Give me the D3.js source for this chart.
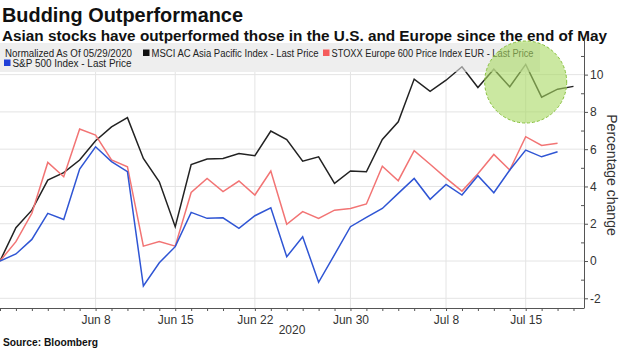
<!DOCTYPE html>
<html>
  <head>
    <meta charset="utf-8">
    <title>Budding Outperformance</title>
    <script src="https://cdnjs.cloudflare.com/ajax/libs/d3/7.8.5/d3.min.js"></script>
    <style>
      body { margin: 0; background: #fff; }
      text { font-family: "Liberation Sans", Arial, sans-serif; }
    </style>
  </head>
  <body>

    <script>
      // trading days since 05/29/2020
      var days = ["May 29","Jun 1","Jun 2","Jun 3","Jun 4","Jun 5","Jun 8","Jun 9","Jun 10","Jun 11","Jun 12",
                  "Jun 15","Jun 16","Jun 17","Jun 18","Jun 19","Jun 22","Jun 23","Jun 24","Jun 25","Jun 26",
                  "Jun 29","Jun 30","Jul 1","Jul 2","Jul 3","Jul 6","Jul 7","Jul 8","Jul 9","Jul 10",
                  "Jul 13","Jul 14","Jul 15","Jul 16","Jul 17","Jul 20"];
      var tickLabels = ["Jun 8","Jun 15","Jun 22","Jun 30","Jul 8","Jul 15"];
      var yTicks = [-2, 0, 2, 4, 6, 8, 10];

      var msci  = [0, 1.79, 2.73, 4.34, 4.74, 5.42, 6.45, 7.2, 7.69, 5.5, 4.25,
                   1.84, 5.18, 5.47, 5.5, 5.77, 5.65, 6.97, 6.52, 5.36, 5.59,
                   4.17, 4.83, 4.79, 6.52, 7.47, 9.76, 9.1, 9.7, 10.42, 9.31,
                   10.29, 9.35, 10.55, 8.79, 9.22, 9.37];
      var stoxx = [0, 1.04, 2.56, 5.29, 4.52, 7.08, 6.76, 5.42, 5.06, 0.8, 1.04,
                   0.8, 3.68, 4.43, 3.72, 4.29, 3.54, 4.83, 1.97, 2.65, 2.29,
                   2.73, 2.82, 3.06, 5.09, 4.31, 5.92, 5.19, 4.45, 3.75, 4.68,
                   5.72, 4.88, 6.67, 6.2, 6.32];
      var spx   = [0, 0.38, 1.16, 2.56, 2.23, 4.93, 6.13, 5.33, 4.79, -1.34, -0.09,
                   0.77, 2.61, 2.29, 2.32, 1.75, 2.43, 2.86, 0.23, 1.3, -1.14,
                   0.35, 1.84, 2.34, 2.82, 3.63, 4.43, 3.31, 4.11, 3.54, 4.58,
                   3.66, 4.88, 5.95, 5.59, 5.86];

      var series = [
        {name: "MSCI AC Asia Pacific Index - Last Price", values: msci, color: "#222222", key: "#111111"},
        {name: "STOXX Europe 600 Price Index EUR - Last Price", values: stoxx, color: "#f27474", key: "#f55b5b"},
        {name: "S&P 500 Index - Last Price", values: spx, color: "#2f55d4", key: "#1f3fd8"}
      ];

      var W = 620, H = 348;
      var svg = d3.select("body").append("svg")
        .attr("width", W)
        .attr("height", H);

      var x = d3.scaleLinear().domain([0, 36.66]).range([0, 584]);
      var y = d3.scaleLinear().domain([-2.52, 11.75]).range([308, 42]);

      // titles
      svg.append("text").attr("x", 2).attr("y", 22)
        .attr("font-size", 21).attr("font-weight", "bold").attr("fill", "#111")
        .attr("textLength", 241).attr("lengthAdjust", "spacingAndGlyphs")
        .text("Budding Outperformance");
      svg.append("text").attr("x", 2).attr("y", 41)
        .attr("font-size", 14.5).attr("font-weight", "bold").attr("fill", "#111")
        .attr("textLength", 605).attr("lengthAdjust", "spacingAndGlyphs")
        .text("Asian stocks have outperformed those in the U.S. and Europe since the end of May");

      // grid
      var majorIdx = tickLabels.map(function (l){ return days.indexOf(l); });
      svg.append("g").selectAll("line").data(yTicks).enter().append("line")
        .attr("x1", 0).attr("x2", 584)
        .attr("y1", function (d){ return y(d); }).attr("y2", function (d){ return y(d); })
        .attr("stroke", "#e4e4e4");
      svg.append("g").selectAll("line").data(majorIdx).enter().append("line")
        .attr("x1", function (d){ return x(d); }).attr("x2", function (d){ return x(d); })
        .attr("y1", 72).attr("y2", 308)
        .attr("stroke", "#e4e4e4");

      // lines
      var line = d3.line()
        .x(function (d, i){ return x(i); })
        .y(function (d){ return y(d); });
      svg.append("g").selectAll("path").data(series).enter().append("path")
        .attr("d", function (d){ return line(d.values); })
        .attr("fill", "none")
        .attr("stroke", function (d){ return d.color; })
        .attr("stroke-width", 1.5)
        .attr("stroke-linejoin", "miter");

      // legend band
      svg.append("rect").attr("x", 0).attr("y", 43).attr("width", 540).attr("height", 29)
        .attr("fill", "#e2e2e2").attr("opacity", 0.6);

      var leg = svg.append("g").attr("font-size", 10).attr("fill", "#222");
      leg.append("text").attr("x", 5).attr("y", 56.5)
        .attr("textLength", 127).attr("lengthAdjust", "spacingAndGlyphs")
        .text("Normalized As Of 05/29/2020");
      var legItems = [
        {s: series[0], x: 143, y: 56.5, w: 167},
        {s: series[1], x: 323, y: 56.5, w: 202},
        {s: series[2], x: 4, y: 66.5, w: 119}
      ];
      legItems.forEach(function (it){
        leg.append("rect").attr("x", it.x).attr("y", it.y - 7).attr("width", 6.5).attr("height", 6.5)
          .attr("fill", it.s.key);
        leg.append("text").attr("x", it.x + 8.5).attr("y", it.y)
          .attr("textLength", it.w).attr("lengthAdjust", "spacingAndGlyphs")
          .text(it.s.name);
      });

      // axes
      var xAxis = d3.axisBottom(x)
        .tickValues(d3.range(days.length))
        .tickSize(3)
        .tickFormat(function (i){ return tickLabels.indexOf(days[i]) >= 0 ? days[i] : ""; });
      var gx = svg.append("g").attr("transform", "translate(0,308)").call(xAxis);
      gx.select(".domain").attr("stroke", "#555").attr("d", "M0,0.5H584.5");
      gx.selectAll(".tick line").attr("stroke", "#555");
      gx.selectAll(".tick text").attr("y", 7).attr("font-size", 12).attr("fill", "#333")
        .attr("font-family", "Liberation Sans, Arial, sans-serif");

      var yAxis = d3.axisRight(y)
        .tickValues(yTicks)
        .tickSize(4)
        .tickPadding(2)
        .tickFormat(function (d){ return String(d); });
      var gy = svg.append("g").attr("transform", "translate(584,0)").call(yAxis);
      gy.select(".domain").attr("stroke", "#555").attr("d", "M0.5,40V308");
      gy.selectAll(".tick line").attr("stroke", "#555");
      gy.selectAll(".tick text").attr("font-size", 12).attr("fill", "#333")
        .attr("font-family", "Liberation Sans, Arial, sans-serif");
      // odd-value minor ticks pointing inward
      gy.append("g").selectAll("line").data(d3.range(-1, 12, 2)).enter().append("line")
        .attr("x1", -3).attr("x2", 0)
        .attr("y1", function (d){ return y(d) + 0.5; }).attr("y2", function (d){ return y(d) + 0.5; })
        .attr("stroke", "#555");

      svg.append("text").attr("x", 292).attr("y", 334)
        .attr("text-anchor", "middle").attr("font-size", 12).attr("fill", "#333")
        .text("2020");
      svg.append("text")
        .attr("transform", "translate(607,175) rotate(90)")
        .attr("text-anchor", "middle").attr("font-size", 14).attr("fill", "#333")
        .text("Percentage change");

      svg.append("text").attr("x", 3).attr("y", 346)
        .attr("font-size", 11).attr("font-weight", "bold").attr("fill", "#111")
        .attr("textLength", 95).attr("lengthAdjust", "spacingAndGlyphs")
        .text("Source: Bloomberg");

      // highlight over the latest Asia readings
      svg.append("circle")
        .attr("cx", x(33)).attr("cy", 82).attr("r", 41)
        .attr("fill", "#a9d862").attr("fill-opacity", 0.6)
        .attr("stroke", "#86c03a").attr("stroke-dasharray", "3,2");
    </script>

  </body>
</html>
